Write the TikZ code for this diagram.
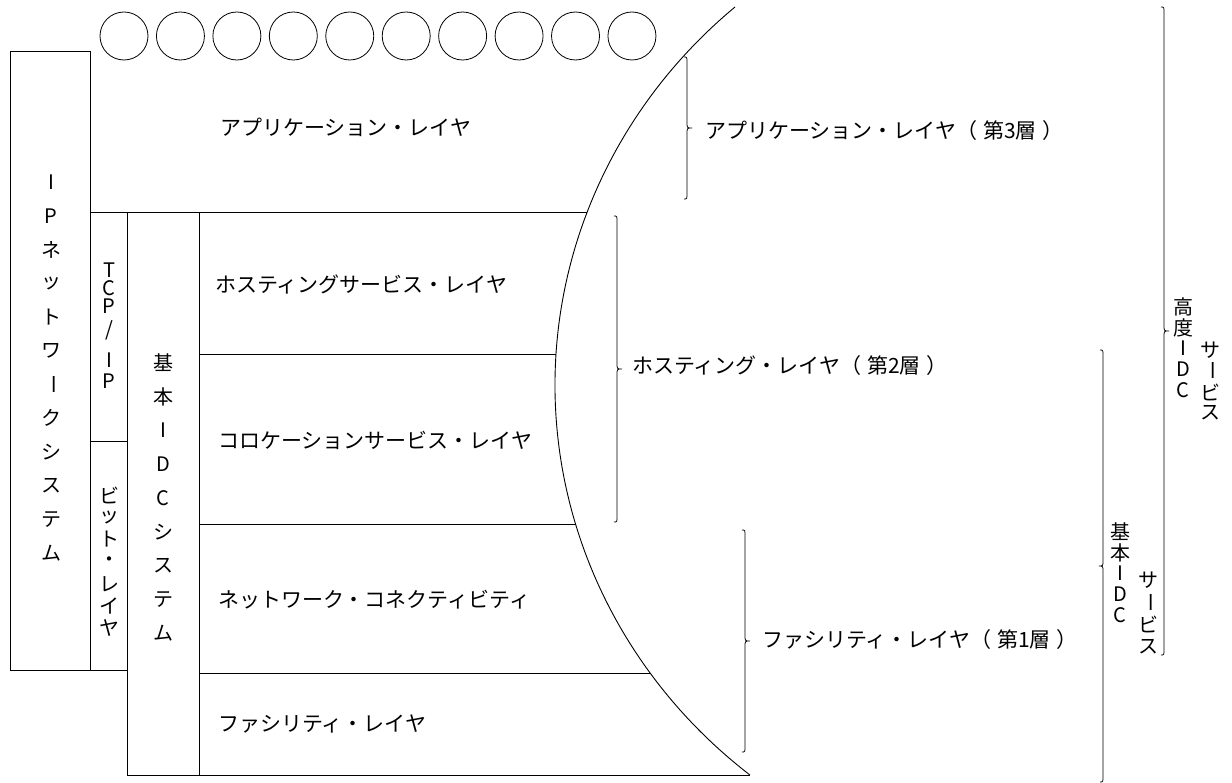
\documentclass[tikz,border=0pt]{standalone}
\usepackage{fontspec}
\usepackage{graphicx}
\setmainfont{Noto Sans CJK JP}
\newcommand{\vcho}{\rotatebox{-90}{ー}}
\tikzset{
  ln/.style={line width=1pt, black},
  brc/.style={line width=0.8pt, black},
  lbl/.style={font=\fontsize{21}{25}\selectfont, anchor=west, inner sep=0pt},
  vch/.style={font=\fontsize{20}{24}\selectfont, inner sep=0pt},
  bub/.style={circle, draw, line width=0.8pt, minimum size=48pt, inner sep=0pt},
  bigarc/.style={start angle=130.88, end angle=231.26, x radius=521, y radius=500}
}
\newcommand{\VBrace}[4]{%
  \pgfmathsetmacro{\bmid}{(#2+#3)/2}
  \draw[brc] ({#1-3},{-#2}) .. controls ({#1},{-#2}) and ({#1},{-#2}) .. ({#1},{-#2-6})
    -- ({#1},{-\bmid+6}) .. controls ({#1},{-\bmid}) and ({#1},{-\bmid}) .. ({#1+(#4)},{-\bmid})
    .. controls ({#1},{-\bmid}) and ({#1},{-\bmid}) .. ({#1},{-\bmid-6})
    -- ({#1},{-#3+6}) .. controls ({#1},{-#3}) and ({#1},{-#3}) .. ({#1-3},{-#3});
}
\begin{document}
\begin{tikzpicture}[x=1pt,y=1pt]
\useasboundingbox (0,0) rectangle (1232,-783);

% bubbles
\foreach \i in {0,...,9}
  \node[bub] (c\i) at ({124+\i*56.44},-36) {};

% boxes
\draw[ln] (10,-52) rectangle (90,-670);
\draw[ln] (90,-213) rectangle (127,-442);
\draw[ln] (90,-442) rectangle (127,-670);
\draw[ln] (127,-213) rectangle (199,-775);

% horizontal layer lines, clipped at the arc
\begin{scope}
  \clip (0,0) -- (735,0) -- (735,-7) arc[bigarc] -- (750,-790) -- (0,-790) -- cycle;
  \draw[ln] (90,-213) -- (800,-213);
  \draw[ln] (199,-355) -- (800,-355);
  \draw[ln] (199,-524) -- (800,-524);
  \draw[ln] (199,-673) -- (800,-673);
  \draw[ln] (127,-775) -- (800,-775);
\end{scope}

% arc
\draw[line width=0.9pt] (735,-7) arc[bigarc];

% horizontal labels
\node[lbl] (appL) at (220,-127) {アプリケーション・レイヤ};
\node[lbl] (hostS) at (215,-285) {ホスティングサービス・レイヤ};
\node[lbl] (coloS) at (218,-440) {コロケーションサービス・レイヤ};
\node[lbl] (netC) at (218,-600) {ネットワーク・コネクティビティ};
\node[lbl] (facL) at (218,-724) {ファシリティ・レイヤ};
\node[lbl] (lay3) at (705,-131) {アプリケーション・レイヤ（\hspace{6pt}第3層\hspace{6pt}）};
\node[lbl] (lay2) at (632,-366) {ホスティング・レイヤ（\hspace{6pt}第2層\hspace{6pt}）};
\node[lbl] (lay1) at (762,-640) {ファシリティ・レイヤ（\hspace{6pt}第1層\hspace{6pt}）};

% vertical texts
\foreach \c [count=\i] in {I,P,ネ,ッ,ト,ワ,\vcho,ク,シ,ス,テ,ム}
  \node[vch] (ip\i) at (51,{-182-(\i-1)*33.73}) {\c};
\foreach \c [count=\i] in {基,本,I,D,C,シ,ス,テ,ム}
  \node[vch] (idc\i) at (163,{-363-(\i-1)*33.75}) {\c};
\foreach \c [count=\i] in {ビ,ッ,ト,・,レ,イ,ヤ}
  \node[vch] (bit\i) at (109,{-495-(\i-1)*22.2}) {\c};
\node[vch] (tcp1) at (109,-270) {T};
\node[vch] (tcp2) at (109,-288) {C};
\node[vch] (tcp3) at (109,-306) {P};
\node[vch] (tcp4) at (109,-330) {/};
\node[vch] (tcp5) at (109,-360) {I};
\node[vch] (tcp6) at (109,-381) {P};

\foreach \c [count=\i] in {高,度,I,D,C}
  \node[vch] (ko\i) at (1183,{-307-(\i-1)*20.75}) {\c};
\foreach \c [count=\i] in {サ,\vcho,ビ,ス}
  \node[vch] (ks\i) at (1210,{-350-(\i-1)*21}) {\c};
\foreach \c [count=\i] in {基,本,I,D,C}
  \node[vch] (ki\i) at (1120,{-532-(\i-1)*20.75}) {\c};
\foreach \c [count=\i] in {サ,\vcho,ビ,ス}
  \node[vch] (kis\i) at (1148,{-580-(\i-1)*22.3}) {\c};

% braces
\VBrace{687}{57}{199}{5}
\VBrace{617}{216}{522}{5}
\VBrace{745}{530}{752}{5}
\VBrace{1164}{7}{655}{5}
\VBrace{1103}{350}{782}{-4}
\end{tikzpicture}
\end{document}
